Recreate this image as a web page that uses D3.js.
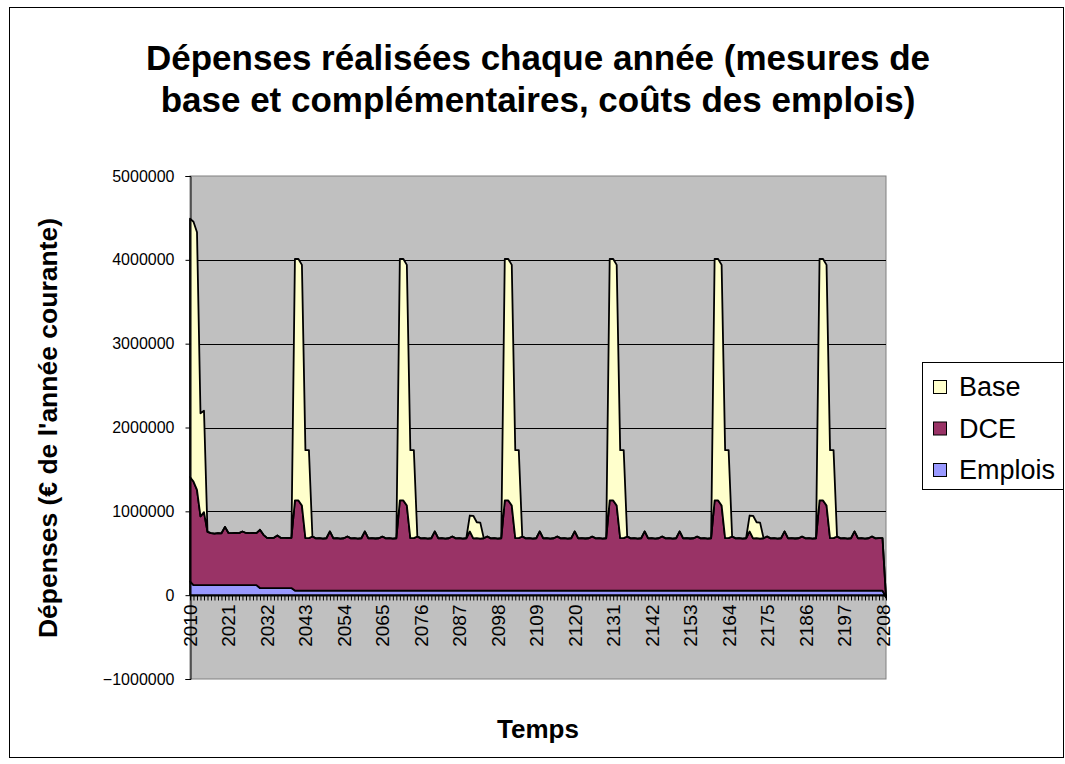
<!DOCTYPE html>
<html>
<head>
<meta charset="utf-8">
<script src="https://cdn.jsdelivr.net/npm/d3@7"></script>
<style>
  html, body { margin: 0; padding: 0; background: #fff; }
  svg { display: block; font-family: Arial, 'Liberation Sans', sans-serif; }
</style>
</head>
<body>
<div id="chart"></div>
<script>
// data (€ de l'année courante), one row per decade
const years = d3.range(2010, 2210);

const emplois = [
  165000, 120000, 120000, 120000, 120000, 120000, 120000, 120000, 120000, 120000,
  120000, 120000, 120000, 120000, 120000, 120000, 120000, 120000, 120000, 120000,
  85000, 85000, 85000, 85000, 85000, 85000, 85000, 85000, 85000, 85000,
  55000, 55000, 55000, 55000, 55000, 55000, 55000, 55000, 55000, 55000,
  55000, 55000, 55000, 55000, 55000, 55000, 55000, 55000, 55000, 55000,
  55000, 55000, 55000, 55000, 55000, 55000, 55000, 55000, 55000, 55000,
  55000, 55000, 55000, 55000, 55000, 55000, 55000, 55000, 55000, 55000,
  55000, 55000, 55000, 55000, 55000, 55000, 55000, 55000, 55000, 55000,
  55000, 55000, 55000, 55000, 55000, 55000, 55000, 55000, 55000, 55000,
  55000, 55000, 55000, 55000, 55000, 55000, 55000, 55000, 55000, 55000,
  55000, 55000, 55000, 55000, 55000, 55000, 55000, 55000, 55000, 55000,
  55000, 55000, 55000, 55000, 55000, 55000, 55000, 55000, 55000, 55000,
  55000, 55000, 55000, 55000, 55000, 55000, 55000, 55000, 55000, 55000,
  55000, 55000, 55000, 55000, 55000, 55000, 55000, 55000, 55000, 55000,
  55000, 55000, 55000, 55000, 55000, 55000, 55000, 55000, 55000, 55000,
  55000, 55000, 55000, 55000, 55000, 55000, 55000, 55000, 55000, 55000,
  55000, 55000, 55000, 55000, 55000, 55000, 55000, 55000, 55000, 55000,
  55000, 55000, 55000, 55000, 55000, 55000, 55000, 55000, 55000, 55000,
  55000, 55000, 55000, 55000, 55000, 55000, 55000, 55000, 55000, 55000,
  55000, 55000, 55000, 55000, 55000, 55000, 55000, 55000, 55000, -25000,
];

const dce = [
  1245000, 1235000, 1135000, 820000, 870000, 635000, 620000, 615000, 620000, 618000,
  695000, 622000, 620000, 622000, 620000, 640000, 622000, 620000, 622000, 620000,
  695000, 635000, 599000, 597000, 599000, 627000, 598000, 599000, 597000, 599000,
  1075000, 1075000, 1015000, 625000, 625000, 645000, 622000, 626000, 620000, 624000,
  705000, 622000, 625000, 620000, 624000, 645000, 622000, 626000, 620000, 624000,
  705000, 623000, 625000, 621000, 624000, 644000, 622000, 625000, 620000, 624000,
  1075000, 1075000, 1015000, 625000, 625000, 645000, 622000, 626000, 620000, 624000,
  705000, 622000, 625000, 620000, 624000, 645000, 622000, 626000, 620000, 624000,
  705000, 622000, 625000, 620000, 624000, 645000, 622000, 626000, 620000, 624000,
  1075000, 1075000, 1015000, 625000, 625000, 645000, 622000, 626000, 620000, 624000,
  705000, 622000, 625000, 620000, 624000, 645000, 622000, 626000, 620000, 624000,
  705000, 623000, 625000, 621000, 624000, 644000, 622000, 625000, 620000, 624000,
  1075000, 1075000, 1015000, 625000, 625000, 645000, 622000, 626000, 620000, 624000,
  705000, 622000, 625000, 620000, 624000, 645000, 622000, 626000, 620000, 624000,
  705000, 623000, 625000, 621000, 624000, 644000, 622000, 625000, 620000, 624000,
  1075000, 1075000, 1015000, 625000, 625000, 645000, 622000, 626000, 620000, 624000,
  705000, 622000, 625000, 620000, 624000, 645000, 622000, 626000, 620000, 624000,
  705000, 623000, 625000, 621000, 624000, 644000, 622000, 625000, 620000, 624000,
  1075000, 1075000, 1015000, 625000, 625000, 645000, 622000, 626000, 620000, 624000,
  705000, 622000, 625000, 620000, 624000, 645000, 622000, 626000, 625000, 0,
];

const base = [
  3080000, 3100000, 3075000, 1230000, 1210000, 0, 0, 0, 0, 0,
  0, 0, 0, 0, 0, 0, 0, 0, 0, 0,
  0, 0, 0, 0, 0, 0, 0, 0, 0, 0,
  2880000, 2880000, 2870000, 1050000, 1050000, 0, 0, 0, 0, 0,
  0, 0, 0, 0, 0, 0, 0, 0, 0, 0,
  0, 0, 0, 0, 0, 0, 0, 0, 0, 0,
  2880000, 2880000, 2870000, 1050000, 1050000, 0, 0, 0, 0, 0,
  0, 0, 0, 0, 0, 0, 0, 0, 0, 0,
  190000, 270000, 190000, 190000, 0, 0, 0, 0, 0, 0,
  2880000, 2880000, 2870000, 1050000, 1050000, 0, 0, 0, 0, 0,
  0, 0, 0, 0, 0, 0, 0, 0, 0, 0,
  0, 0, 0, 0, 0, 0, 0, 0, 0, 0,
  2880000, 2880000, 2870000, 1050000, 1050000, 0, 0, 0, 0, 0,
  0, 0, 0, 0, 0, 0, 0, 0, 0, 0,
  0, 0, 0, 0, 0, 0, 0, 0, 0, 0,
  2880000, 2880000, 2870000, 1050000, 1050000, 0, 0, 0, 0, 0,
  190000, 270000, 190000, 190000, 0, 0, 0, 0, 0, 0,
  0, 0, 0, 0, 0, 0, 0, 0, 0, 0,
  2880000, 2880000, 2870000, 1050000, 1050000, 0, 0, 0, 0, 0,
  0, 0, 0, 0, 0, 0, 0, 0, 0, 0,
];

const seriesKeys = ['Emplois', 'DCE', 'Base']; // stacking order, bottom first
const legendKeys = ['Base', 'DCE', 'Emplois'];
const colors = { Base: '#FFFFCC', DCE: '#993366', Emplois: '#9999FF' };
const yTicks = [-1000000, 0, 1000000, 2000000, 3000000, 4000000, 5000000];
const titleLines = [
  'Dépenses réalisées chaque année (mesures de',
  'base et complémentaires, coûts des emplois)',
];

const rows = years.map((year, i) => ({
  year, Emplois: emplois[i], DCE: dce[i], Base: base[i],
}));

// layout
const width = 1065;
const height = 764;
const plot = { left: 190, right: 886, top: 176, bottom: 679 };
const font = 'Arial, Liberation Sans, sans-serif';

const svg = d3.select('#chart')
  .append('svg')
  .attr('width', width)
  .attr('height', height);

svg.append('rect')
  .attr('width', width)
  .attr('height', height)
  .attr('fill', '#fff');

// chart border
svg.append('rect')
  .attr('x', 9.5)
  .attr('y', 7.5)
  .attr('width', 1054)
  .attr('height', 750)
  .attr('fill', 'none')
  .attr('stroke', '#000');

// scales
const x = d3.scalePoint()
  .domain(years)
  .range([plot.left, plot.right]);

const y = d3.scaleLinear()
  .domain([-1000000, 5000000])
  .range([plot.bottom, plot.top]);

// plot area
svg.append('rect')
  .attr('x', plot.left)
  .attr('y', plot.top)
  .attr('width', plot.right - plot.left)
  .attr('height', plot.bottom - plot.top)
  .attr('fill', '#C0C0C0')
  .attr('stroke', '#808080');

svg.append('g')
  .attr('class', 'grid')
  .selectAll('line')
  .data(yTicks.filter((d) => d > -1000000 && d < 5000000))
  .join('line')
  .attr('x1', plot.left)
  .attr('x2', plot.right)
  .attr('y1', (d) => Math.round(y(d)) + 0.5)
  .attr('y2', (d) => Math.round(y(d)) + 0.5)
  .attr('stroke', '#000');

// stacked areas
const stacked = d3.stack().keys(seriesKeys)(rows);

const area = d3.area()
  .x((d) => x(d.data.year))
  .y0((d) => y(d[0]))
  .y1((d) => y(d[1]));

svg.append('g')
  .attr('class', 'areas')
  .selectAll('path')
  .data(stacked)
  .join('path')
  .attr('d', area)
  .attr('fill', (s) => colors[s.key])
  .attr('stroke', '#000')
  .attr('stroke-width', 1.8)
  .attr('stroke-linejoin', 'round');

// y axis
const yAxis = d3.axisLeft(y)
  .tickValues(yTicks)
  .tickFormat(d3.format('d'))
  .tickSize(5)
  .tickPadding(11);

svg.append('g')
  .attr('transform', `translate(${plot.left + 0.5},0)`)
  .call(yAxis)
  .call((g) => g.select('.domain').attr('stroke', '#000'))
  .call((g) => g.selectAll('.tick line').attr('stroke', '#000'))
  .call((g) => g.selectAll('.tick text')
    .attr('font-size', 16)
    .attr('font-family', font)
    .attr('fill', '#000'));

// x axis sits on zero
const xAxis = d3.axisBottom(x)
  .tickValues(years)
  .tickSize(5)
  .tickSizeOuter(0)
  .tickFormat((d, i) => (i % 11 === 0 ? d : ''));

svg.append('g')
  .attr('transform', `translate(0,${Math.round(y(0)) + 0.5})`)
  .call(xAxis)
  .call((g) => g.select('.domain').attr('stroke', '#000'))
  .call((g) => g.selectAll('.tick line').attr('stroke', '#000'))
  .call((g) => g.selectAll('.tick text')
    .attr('font-size', 19)
    .attr('font-family', font)
    .attr('fill', '#000')
    .attr('text-anchor', 'end')
    .attr('dy', null)
    .attr('dominant-baseline', 'central')
    .attr('transform', 'translate(0,9) rotate(-90)')
    .attr('x', 0)
    .attr('y', 0));

// titles
svg.append('text')
  .attr('text-anchor', 'middle')
  .attr('font-size', 35)
  .attr('font-weight', 'bold')
  .selectAll('tspan')
  .data(titleLines)
  .join('tspan')
  .attr('x', 538)
  .attr('y', (_, i) => 70 + i * 42)
  .text((d) => d);

svg.append('text')
  .attr('transform', 'translate(57,428) rotate(-90)')
  .attr('text-anchor', 'middle')
  .attr('font-size', 26.5)
  .attr('font-weight', 'bold')
  .text('Dépenses (€ de l\'année courante)');

svg.append('text')
  .attr('x', 538)
  .attr('y', 738)
  .attr('text-anchor', 'middle')
  .attr('font-size', 26)
  .attr('font-weight', 'bold')
  .text('Temps');

// legend
const legend = svg.append('g').attr('class', 'legend');

legend.append('rect')
  .attr('x', 922.5)
  .attr('y', 362.5)
  .attr('width', 141)
  .attr('height', 127)
  .attr('fill', '#fff')
  .attr('stroke', '#000');

const item = legend.selectAll('g')
  .data(legendKeys)
  .join('g')
  .attr('transform', (_, i) => `translate(933,${387 + i * 41.5})`);

item.append('rect')
  .attr('x', 0.5)
  .attr('y', -6.5)
  .attr('width', 13)
  .attr('height', 13)
  .attr('fill', (d) => colors[d])
  .attr('stroke', '#000');

item.append('text')
  .attr('x', 26)
  .attr('dominant-baseline', 'central')
  .attr('font-size', 27)
  .text((d) => d);
</script>
</body>
</html>
